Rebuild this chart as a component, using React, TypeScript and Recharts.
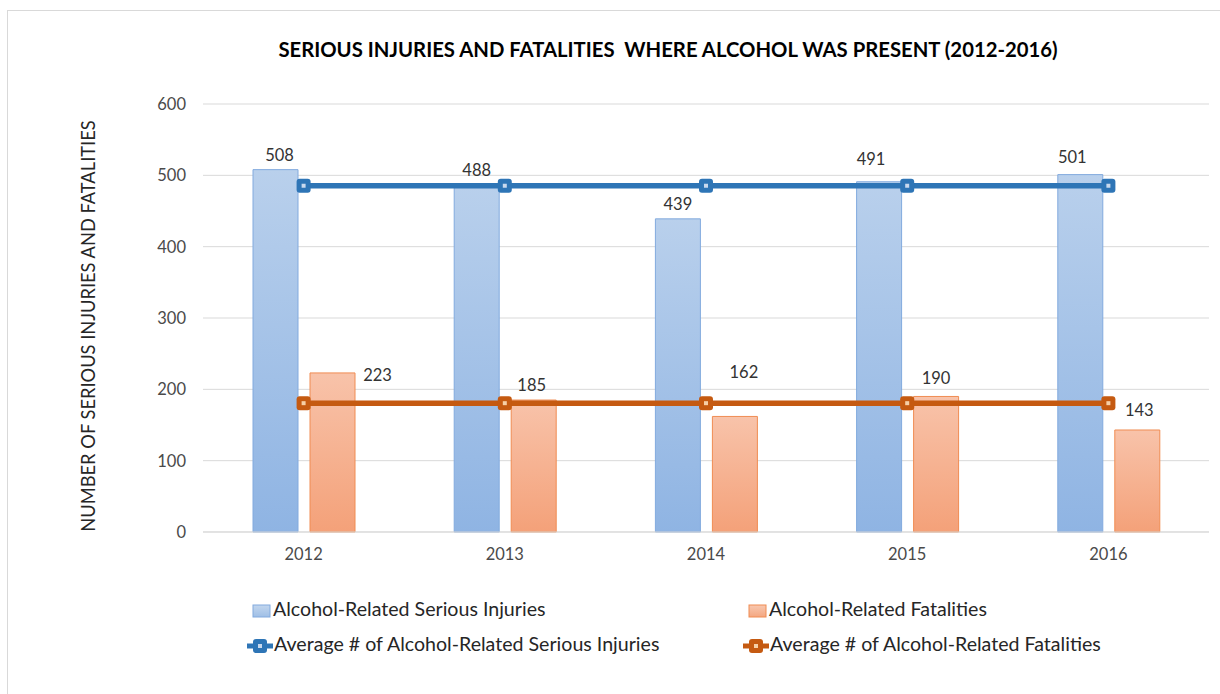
import { Bar, CartesianGrid, ComposedChart, LabelList, Line, XAxis, YAxis } from "recharts";

// values
const years = ["2012", "2013", "2014", "2015", "2016"];
const seriousInjuries = [508, 488, 439, 491, 501];
const fatalities = [223, 185, 162, 190, 143];
const avgInjuries = [485.4, 485.4, 485.4, 485.4, 485.4];
const avgFatalities = [180.6, 180.6, 180.6, 180.6, 180.6];
const yTicks = [0, 100, 200, 300, 400, 500, 600];

const data = years.map((year, i) => ({
  year,
  injuries: seriousInjuries[i],
  fatalities: fatalities[i],
  avgInjuries: avgInjuries[i],
  avgFatalities: avgFatalities[i],
}));

const FONT = "Lato, 'Liberation Sans', sans-serif";
const BLUE_LINE = "#2e75b6";
const ORANGE_LINE = "#c55a11";

// hand-moved data labels in the original (dx, dy from bar top centre)
const injuryNudge = [[4, -9], [0, -8], [0, -9], [-8, -17], [-8, -12]];
const fatalityNudge = [[45, 8], [-2, -9], [9, -38], [0, -12], [2, -14]];

function makeLabel(nudge: number[][]) {
  return (props: any) => {
    const { x, y, width, value, index } = props;
    const [dx, dy] = nudge[index] ?? [0, -9];
    return (
      <text
        x={Number(x) + Number(width) / 2 + dx}
        y={Number(y) + dy}
        textAnchor="middle"
        fontFamily={FONT}
        fontSize={16.5}
        fill="#333"
      >
        {value}
      </text>
    );
  };
}

function SquareDot(color: string, inner: string) {
  return (props: any) => {
    const { cx, cy, index } = props;
    if (cx == null || cy == null) return null;
    return (
      <g key={`dot-${color}-${index}`}>
        <rect x={cx - 7} y={cy - 7} width={14} height={14} rx={3} fill={color} />
        <rect x={cx - 2} y={cy - 2} width={4} height={4} fill={inner} />
      </g>
    );
  };
}

function LineIcon({ color, inner }: { color: string; inner: string }) {
  return (
    <svg width={26} height={16} style={{ verticalAlign: "middle", marginRight: 1 }}>
      <line x1={0} y1={8} x2={26} y2={8} stroke={color} strokeWidth={5} />
      <rect x={6} y={1} width={14} height={14} rx={3} fill={color} />
      <rect x={11} y={6} width={4} height={4} fill={inner} />
    </svg>
  );
}

function BoxIcon({ from, to, stroke }: { from: string; to: string; stroke: string }) {
  return (
    <svg width={19} height={14} style={{ verticalAlign: "middle", marginRight: 2 }}>
      <defs>
        <linearGradient id={`lg-${stroke}`} x1="0" y1="0" x2="0" y2="1">
          <stop offset="0%" stopColor={from} />
          <stop offset="100%" stopColor={to} />
        </linearGradient>
      </defs>
      <rect x={1} y={1} width={17} height={12} fill={`url(#lg-${stroke})`} stroke={stroke} />
    </svg>
  );
}

const legendText = { fontFamily: FONT, fontSize: 19.6, color: "#262626", whiteSpace: "nowrap" as const };
const tickStyle = { fontFamily: FONT, fontSize: 16.5, fill: "#4a4a4a" };

export default function App() {
  return (
    <div style={{ position: "absolute", left: 0, top: 0, width: 1220, height: 694, background: "#fff", overflow: "hidden" }}>
      <div
        style={{
          position: "absolute",
          left: 7,
          top: 10,
          width: 1240,
          height: 720,
          borderLeft: "1px solid #d9d9d9",
          borderTop: "1px solid #d9d9d9",
        }}
      />
      <div
        style={{
          position: "absolute",
          left: 0,
          width: 1336,
          top: 37,
          textAlign: "center",
          fontFamily: FONT,
          fontWeight: 700,
          fontSize: 20.3,
          color: "#000",
          whiteSpace: "pre",
        }}
      >
        {"SERIOUS INJURIES AND FATALITIES  WHERE ALCOHOL WAS PRESENT (2012-2016)"}
      </div>
      <div
        style={{
          position: "absolute",
          left: 88,
          top: 326,
          transform: "translate(-50%, -50%) rotate(-90deg)",
          fontFamily: FONT,
          fontSize: 18.3,
          color: "#262626",
          whiteSpace: "nowrap",
        }}
      >
        NUMBER OF SERIOUS INJURIES AND FATALITIES
      </div>

      <div style={{ position: "absolute", left: 0, top: 0 }}>
        <ComposedChart
          width={1220}
          height={694}
          data={data}
          margin={{ top: 104, right: 11, bottom: 132, left: 0 }}
          barGap={12}
        >
          <defs>
            <linearGradient id="injFill" x1="0" y1="0" x2="0" y2="1">
              <stop offset="0%" stopColor="#b9d0ec" />
              <stop offset="100%" stopColor="#8fb4e3" />
            </linearGradient>
            <linearGradient id="fatFill" x1="0" y1="0" x2="0" y2="1">
              <stop offset="0%" stopColor="#f8c3aa" />
              <stop offset="100%" stopColor="#f4a179" />
            </linearGradient>
          </defs>
          <CartesianGrid vertical={false} stroke="#d9d9d9" strokeWidth={1} />
          <XAxis
            dataKey="year"
            height={30}
            axisLine={{ stroke: "#d9d9d9" }}
            tickLine={false}
            tickMargin={10}
            tick={tickStyle}
          />
          <YAxis
            width={203}
            domain={[0, 600]}
            ticks={yTicks}
            axisLine={false}
            tickLine={false}
            tickMargin={11}
            tick={tickStyle}
          />
          <Bar dataKey="injuries" barSize={45} fill="url(#injFill)" stroke="#82aade" strokeWidth={1} isAnimationActive={false}>
            <LabelList dataKey="injuries" content={makeLabel(injuryNudge)} />
          </Bar>
          <Bar dataKey="fatalities" barSize={45} fill="url(#fatFill)" stroke="#f08c52" strokeWidth={1} isAnimationActive={false}>
            <LabelList dataKey="fatalities" content={makeLabel(fatalityNudge)} />
          </Bar>
          <Line
            dataKey="avgInjuries"
            stroke={BLUE_LINE}
            strokeWidth={5.5}
            dot={SquareDot(BLUE_LINE, "#c9d9ee")}
            activeDot={false}
            isAnimationActive={false}
          />
          <Line
            dataKey="avgFatalities"
            stroke={ORANGE_LINE}
            strokeWidth={5.5}
            dot={SquareDot(ORANGE_LINE, "#f6cfa6")}
            activeDot={false}
            isAnimationActive={false}
          />
        </ComposedChart>
      </div>

      <div style={{ position: "absolute", left: 252, top: 597, ...legendText }}>
        <BoxIcon from="#c2d6ee" to="#9fbfe6" stroke="#82aade" />
        Alcohol-Related Serious Injuries
      </div>
      <div style={{ position: "absolute", left: 748, top: 597, ...legendText }}>
        <BoxIcon from="#f8c8b0" to="#f4a781" stroke="#f08c52" />
        Alcohol-Related Fatalities
      </div>
      <div style={{ position: "absolute", left: 247, top: 632, ...legendText }}>
        <LineIcon color={BLUE_LINE} inner="#c9d9ee" />
        Average # of Alcohol-Related Serious Injuries
      </div>
      <div style={{ position: "absolute", left: 743, top: 632, ...legendText }}>
        <LineIcon color={ORANGE_LINE} inner="#f6cfa6" />
        Average # of Alcohol-Related Fatalities
      </div>
    </div>
  );
}
